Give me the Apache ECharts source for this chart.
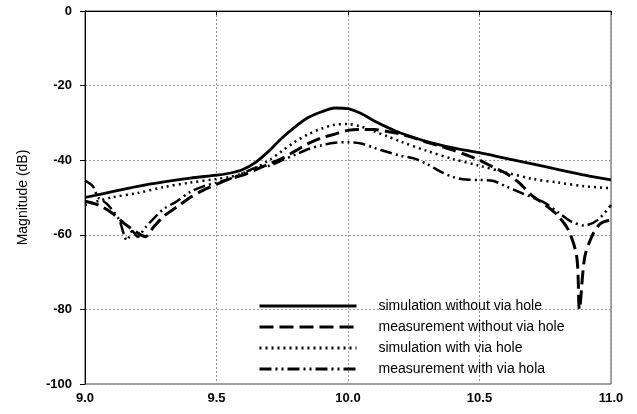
<!DOCTYPE html>
<html>
<head>
<meta charset="utf-8">
<script src="https://cdn.jsdelivr.net/npm/echarts@6/dist/echarts.min.js"></script>
<style>
html,body{margin:0;padding:0;background:#fff;}
#c{width:637px;height:414px;}
</style>
</head>
<body>
<div id="c"></div>
<script>
var seriesNames = ['simulation without via hole','measurement without via hole','simulation with via hole','measurement with via hola'];
var xTicks = [9.0, 9.5, 10.0, 10.5, 11.0];
var yTicks = [0, -20, -40, -60, -80, -100];

var simWithout = [[9.0,-50],[9.1,-48.5],[9.2,-47],[9.3,-45.8],[9.4,-44.8],[9.5,-44],[9.55,-43.5],[9.6,-42.5],[9.65,-40.5],[9.7,-37.5],[9.75,-34],[9.8,-31],[9.85,-28.5],[9.9,-27],[9.95,-26],[10.0,-26.2],[10.05,-27.5],[10.1,-29.5],[10.15,-31.2],[10.2,-32.7],[10.3,-35],[10.4,-36.7],[10.5,-38],[10.6,-39.5],[10.7,-41],[10.8,-42.5],[10.9,-44],[11.0,-45.3]];

var measWithout = [[9.0,-51],[9.05,-52],[9.1,-54],[9.15,-57],[9.2,-59.5],[9.23,-60.5],[9.26,-58],[9.3,-55],[9.35,-52.5],[9.4,-50],[9.45,-48],[9.5,-46.5],[9.55,-45],[9.6,-44],[9.65,-42.5],[9.7,-41],[9.75,-39.5],[9.8,-37.5],[9.85,-35.5],[9.9,-34],[9.95,-33],[10.0,-32],[10.05,-31.8],[10.1,-31.8],[10.15,-32.3],[10.2,-33],[10.25,-34],[10.3,-35.2],[10.35,-36.2],[10.4,-37.3],[10.45,-38.6],[10.5,-40],[10.55,-41.8],[10.6,-43.5],[10.65,-46],[10.7,-49.5],[10.75,-52],[10.8,-55],[10.84,-59],[10.87,-66],[10.88,-80],[10.9,-66],[10.93,-60],[10.96,-57],[11.0,-56]];

var simWith = [[9.0,-52],[9.1,-50],[9.2,-48.8],[9.3,-47.2],[9.4,-46],[9.5,-45],[9.55,-44.5],[9.6,-43.5],[9.65,-42],[9.7,-40],[9.75,-37.5],[9.8,-35],[9.85,-33],[9.9,-31.5],[9.95,-30.5],[10.0,-30.3],[10.05,-31],[10.1,-32.3],[10.15,-33.6],[10.2,-35],[10.3,-37.5],[10.4,-39.7],[10.5,-41.5],[10.6,-43.3],[10.7,-45],[10.8,-46],[10.9,-47],[11.0,-47.5]];

var measWith = [[9.0,-45.5],[9.03,-47],[9.05,-50],[9.08,-51.5],[9.1,-53],[9.13,-56],[9.16,-61.5],[9.18,-59],[9.2,-60.5],[9.23,-58],[9.27,-55],[9.3,-53],[9.35,-51],[9.4,-48.5],[9.45,-47],[9.5,-46],[9.55,-45],[9.6,-43.5],[9.65,-42],[9.7,-41.5],[9.75,-40],[9.8,-38.5],[9.85,-37],[9.9,-36],[9.95,-35.3],[10.0,-35.2],[10.05,-35.5],[10.1,-36.7],[10.15,-37.8],[10.2,-38.8],[10.25,-39.5],[10.3,-41],[10.35,-43],[10.4,-44.5],[10.45,-45.2],[10.5,-45.3],[10.55,-45.5],[10.6,-47],[10.65,-48.5],[10.7,-50],[10.75,-51.5],[10.8,-54],[10.85,-56.5],[10.9,-57.5],[10.95,-56],[11.0,-52]];

var chart = echarts.init(document.getElementById('c'), null, {renderer:'canvas'});
var font = 'Arial, "Liberation Sans", sans-serif';
function mk(name, data, lw, type){
  return {name:name, type:'line', data:data, showSymbol:false, symbol:'none', smooth:0.3,
    lineStyle:{color:'#000', width:lw, type:type}, itemStyle:{color:'#000'}, animation:false, z:3};
}
chart.setOption({
  backgroundColor:'#fff',
  animation:false,
  grid:{left:85, right:26, top:11, bottom:30, show:true, borderColor:'#444', borderWidth:1},
  legend:{
    orient:'vertical', left:253, top:294, itemWidth:97, itemHeight:14, itemGap:7,
    itemStyle:{opacity:0},
    lineStyle:{width:3},
    textStyle:{fontFamily:font, fontSize:14, color:'#000', padding:[0,0,0,17]},
    data:seriesNames
  },
  xAxis:{type:'value', min:xTicks[0], max:xTicks[xTicks.length-1], interval:0.5,
    axisLine:{lineStyle:{color:'#000', width:1}},
    axisTick:{show:true, length:4, lineStyle:{color:'#000'}},
    axisLabel:{fontFamily:font, fontSize:13, fontWeight:'bold', color:'#000', margin:8,
      formatter:function(v){return v.toFixed(1);}},
    splitLine:{show:true, lineStyle:{color:'#999', type:[2,2], width:1}}
  },
  yAxis:{type:'value', min:yTicks[yTicks.length-1], max:yTicks[0], interval:20,
    name:'Magnitude (dB)', nameLocation:'middle', nameGap:55,
    nameTextStyle:{fontFamily:font, fontSize:14, color:'#000'},
    axisLine:{show:true, lineStyle:{color:'#000', width:1}},
    axisTick:{show:true, length:5, lineStyle:{color:'#000'}},
    axisLabel:{fontFamily:font, fontSize:13, fontWeight:'bold', color:'#000', margin:13},
    splitLine:{show:true, lineStyle:{color:'#999', type:[2,2], width:1}}
  },
  series:[
    mk(seriesNames[0], simWithout, 2.8, 'solid'),
    mk(seriesNames[1], measWithout, 3, [14,6]),
    mk(seriesNames[2], simWith, 2.5, [2,4]),
    mk(seriesNames[3], measWith, 2.5, [12,4,2,4,2,4])
  ]
});
</script>
</body>
</html>
